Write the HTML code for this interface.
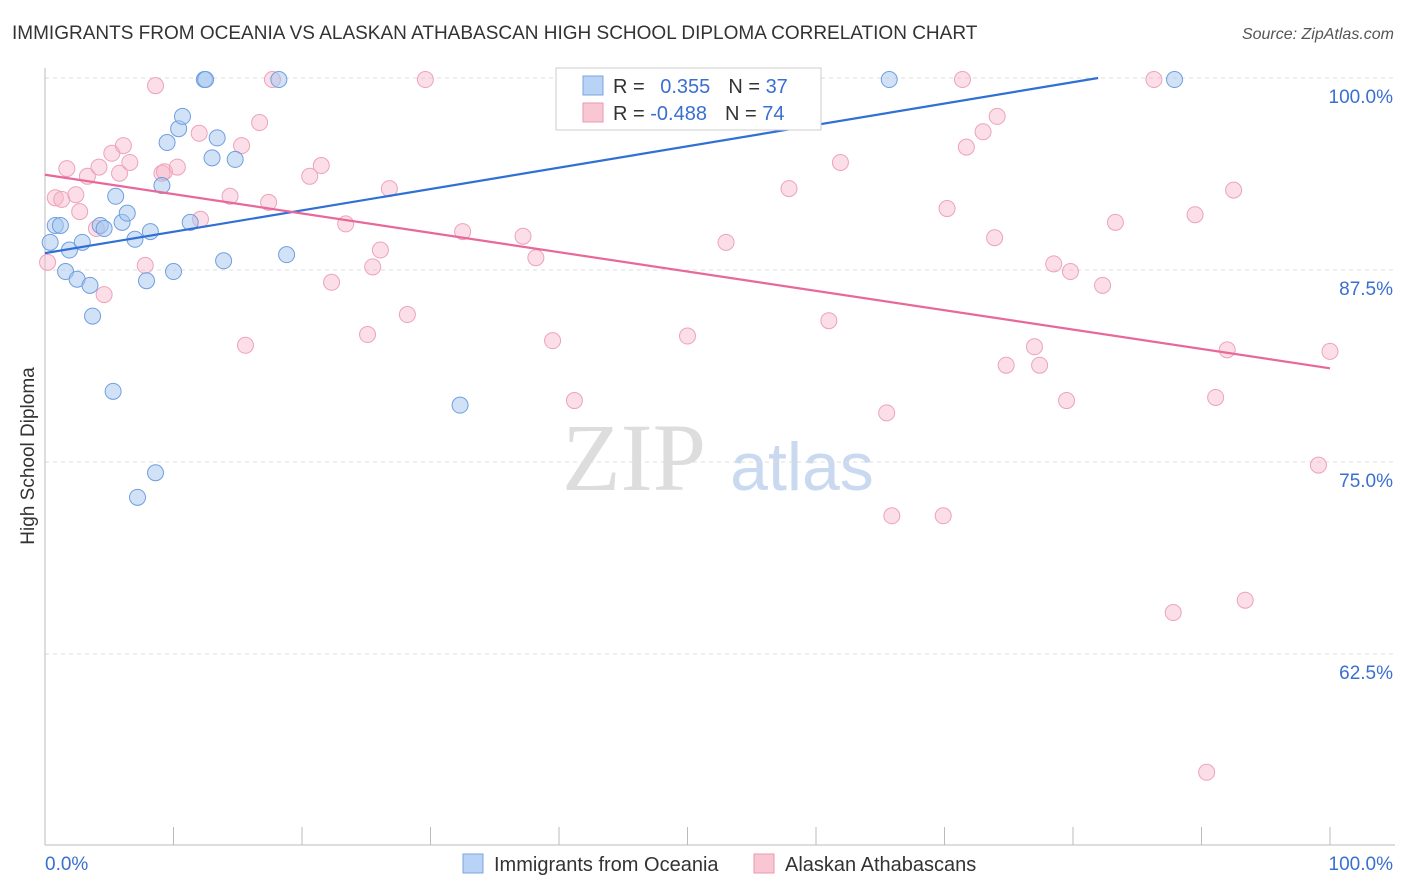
<!DOCTYPE html>
<html><head><meta charset="utf-8"><style>
body{margin:0;background:#fff;font-family:"Liberation Sans",sans-serif;}
svg{display:block}
</style></head><body>
<svg id="chart" width="1406" height="892" xmlns="http://www.w3.org/2000/svg">
<text x="12" y="39" font-size="19" fill="#333">IMMIGRANTS FROM OCEANIA VS ALASKAN ATHABASCAN HIGH SCHOOL DIPLOMA CORRELATION CHART</text>
<text x="1394" y="39" font-size="16" fill="#555" text-anchor="end" font-style="italic">Source: ZipAtlas.com</text>
<text x="634" y="490" font-size="96" fill="#ddd" text-anchor="middle" font-family="Liberation Serif,serif">ZIP</text>
<text x="802" y="490" font-size="68" fill="#c9d9f0" text-anchor="middle">atlas</text>
<text transform="translate(34,456) rotate(-90)" font-size="19" fill="#333" text-anchor="middle">High School Diploma</text>
<g id="grid"></g><g id="pts"></g><g id="trends"></g>
<g>
<rect x="556" y="68" width="265" height="62" fill="#fff" stroke="#ccc"/>
<rect x="583" y="76" width="20" height="19" fill="#b8d3f5" stroke="#7aa6e0"/>
<rect x="583" y="103" width="20" height="19" fill="#f9c6d4" stroke="#e89ab0"/>
<text x="613" y="93" font-size="20" fill="#333">R = <tspan fill="#3a6fd1" dx="10">0.355</tspan><tspan dx="18" fill="#333">N = </tspan><tspan fill="#3a6fd1">37</tspan></text>
<text x="613" y="120" font-size="20" fill="#333">R = <tspan fill="#3a6fd1">-0.488</tspan><tspan dx="18" fill="#333">N = </tspan><tspan fill="#3a6fd1">74</tspan></text>
</g>
<g>
<rect x="463" y="854" width="20" height="19" fill="#b8d3f5" stroke="#7aa6e0"/>
<text x="494" y="871" font-size="20" fill="#333">Immigrants from Oceania</text>
<rect x="754" y="854" width="20" height="19" fill="#f9c6d4" stroke="#e89ab0"/>
<text x="785" y="871" font-size="20" fill="#333">Alaskan Athabascans</text>
</g>
</svg>
<script>
const blueX=[0.4,0.8,1.2,1.6,1.9,2.5,2.9,3.5,3.7,4.3,4.6,5.3,5.5,6.0,6.4,7.0,7.2,7.9,8.2,8.6,9.1,9.5,10.0,10.4,10.7,11.3,12.4,12.5,13.0,13.4,13.9,14.8,18.2,18.8,32.3,65.7,87.9];
const blueY=[89.3,90.4,90.4,87.4,88.8,86.9,89.3,86.5,84.5,90.4,90.2,79.6,92.3,90.6,91.2,89.5,72.7,86.8,90.0,74.3,93.0,95.8,87.4,96.7,97.5,90.6,99.9,99.9,94.8,96.1,88.1,94.7,99.9,88.5,78.7,99.9,99.9];
const pinkX=[0.2,0.8,1.3,1.7,2.4,2.7,3.3,4.0,4.2,4.6,5.2,5.8,6.1,6.6,7.8,8.6,9.1,9.3,10.3,12.0,12.1,14.4,15.3,15.6,16.7,17.4,17.7,20.6,21.5,22.3,23.4,25.1,25.5,26.1,26.8,28.2,29.6,32.5,37.2,38.2,39.5,41.2,50.0,53.0,57.9,61.0,61.9,65.5,65.9,69.9,70.2,71.4,71.7,73.0,73.9,74.1,74.8,77.4,77.0,78.5,79.5,79.8,82.3,83.3,86.3,87.8,89.5,90.4,91.1,92.0,92.5,93.4,99.1,100.0];
const pinkY=[88.0,92.2,92.1,94.1,92.4,91.3,93.6,90.2,94.2,85.9,95.1,93.8,95.6,94.5,87.8,99.5,93.8,93.9,94.2,96.4,90.8,92.3,95.6,82.6,97.1,91.9,99.9,93.6,94.3,86.7,90.5,83.3,87.7,88.8,92.8,84.6,99.9,90.0,89.7,88.3,82.9,79.0,83.2,89.3,92.8,84.2,94.5,78.2,71.5,71.5,91.5,99.9,95.5,96.5,89.6,97.5,81.3,81.3,82.5,87.9,79.0,87.4,86.5,90.6,99.9,65.2,91.1,54.8,79.2,82.3,92.7,66.0,74.8,82.2];
const blueTrend=[88.6,0.1391]; // intercept, slope
const pinkTrend=[93.7,-0.126];
const yTicks=[100,87.5,75,62.5];
const yTickLabels=["100.0%","87.5%","75.0%","62.5%"];
const xTickVals=[0,10,20,30,40,50,60,70,80,90,100];
const NS="http://www.w3.org/2000/svg";
const X=v=>45+v*12.85, Y=v=>78+(100-v)*15.36;
function mk(t,a,p){const e=document.createElementNS(NS,t);for(const k in a)e.setAttribute(k,a[k]);p.appendChild(e);return e;}
const g=document.getElementById('grid');
yTicks.forEach((t,i)=>{
 const l=mk('line',{x1:45,x2:1395,y1:Y(t),y2:Y(t),stroke:'#ddd','stroke-dasharray':'4,4'},g);
 
 
 const tx=mk('text',{x:1393,y:Y(t)+25,'font-size':19,fill:'#3a6fd1','text-anchor':'end'},g);
 tx.textContent=yTickLabels[i];
 
 
});
let ax=mk('line',{x1:45,x2:45,y1:68,y2:845,stroke:'#bbb'},g);


ax=mk('line',{x1:45,x2:1395,y1:845,y2:845,stroke:'#bbb'},g);


xTickVals.forEach(v=>{const t=mk('line',{x1:X(v),x2:X(v),y1:827,y2:845,stroke:'#bbb'},g);
 
 });
let t=mk('text',{x:45,y:870,'font-size':19,fill:'#3a6fd1'},g);t.textContent='0.0%';


t=mk('text',{x:1393,y:870,'font-size':19,fill:'#3a6fd1','text-anchor':'end'},g);t.textContent='100.0%';


const p=document.getElementById('pts');
pinkX.forEach((x,i)=>{const c=mk('circle',{cx:X(x),cy:Y(pinkY[i]),r:8,fill:'rgba(247,182,202,0.45)',stroke:'#eda3ba','stroke-width':1},p);
 
 });
blueX.forEach((x,i)=>{const c=mk('circle',{cx:X(x),cy:Y(blueY[i]),r:8,fill:'rgba(164,197,240,0.5)',stroke:'#6f9ee0','stroke-width':1},p);
 
 });
const tr=document.getElementById('trends');
const bx2=Math.min(100,(100-blueTrend[0])/blueTrend[1]);
let l=mk('line',{x1:X(0),y1:Y(blueTrend[0]),x2:X(bx2),y2:Y(blueTrend[0]+blueTrend[1]*bx2),stroke:'#2f6fd6','stroke-width':2.2},tr);


l=mk('line',{x1:X(0),y1:Y(pinkTrend[0]),x2:X(100),y2:Y(pinkTrend[0]+pinkTrend[1]*100),stroke:'#e8689a','stroke-width':2.2},tr);


</script>
</body></html>
